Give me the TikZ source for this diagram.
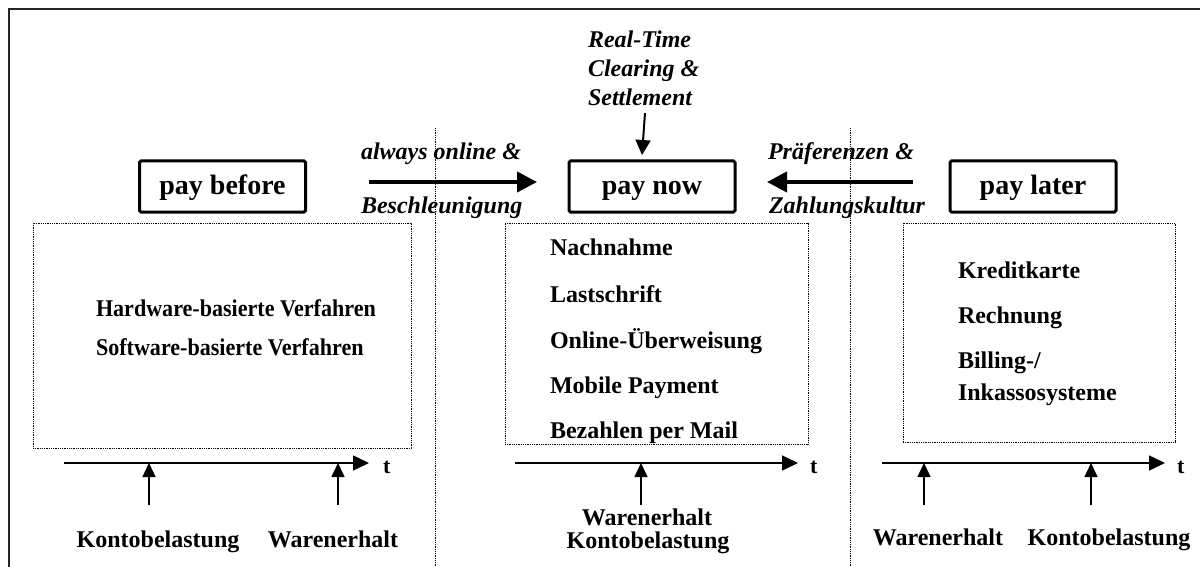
\documentclass[tikz,border=0pt]{standalone}
\usepackage{fontspec}
\setmainfont{Liberation Serif}
\usetikzlibrary{arrows.meta}
\begin{document}
\begin{tikzpicture}[x=1pt,y=-1pt,
  every node/.style={inner sep=0pt, outer sep=0pt},
  phase/.style={draw, line width=3pt, rounded corners=1.5pt,
    minimum width=166pt, minimum height=51pt, text height=20pt, text depth=5pt,
    font=\fontsize{28}{30}\selectfont\bfseries},
  panel/.style={draw, line width=0.9pt, dash pattern=on 0.9pt off 0.9pt},
  item/.style={anchor=base west, font=\fontsize{24}{26}\selectfont\bfseries},
  event/.style={anchor=base, font=\fontsize{24}{26}\selectfont\bfseries},
  driver/.style={anchor=base west, font=\fontsize{24}{26}\selectfont\bfseries\itshape},
  axislabel/.style={anchor=base west, font=\fontsize{22}{24}\selectfont\bfseries},
  force/.style={line width=4pt, -{Triangle[length=20pt,width=20pt]}},
  timeline/.style={line width=1.5pt, -{Triangle[length=16pt,width=15pt]}},
  marker/.style={line width=1.5pt, -{Triangle[length=14pt,width=13pt]}},
  divider/.style={line width=0.9pt, dash pattern=on 0.9pt off 0.9pt},
]
\useasboundingbox (0,0) rectangle (1200,567);

% open frame (left and top edges)
\draw[line width=2pt, black!85] (9,567) -- (9,9) -- (1200,9);

% dotted dividers between the three columns
\coordinate (d1t) at (435,128); \coordinate (d1b) at (435,567);
\coordinate (d2t) at (850,128); \coordinate (d2b) at (850,567);
\draw[divider] (d1t) -- (d1b);
\draw[divider] (d2t) -- (d2b);

% phase boxes
\node[phase] (before) at (222.5,186.5) {pay before};
\node[phase] (now)    at (652,186.5)   {pay now};
\node[phase] (later)  at (1033,186.5)  {pay later};

% dotted panels with the procedures
\node[panel, minimum width=378pt, minimum height=225pt] (lpanel) at (222,335.5) {};
\node[panel, minimum width=303pt, minimum height=221pt] (mpanel) at (656.5,333.5) {};
\node[panel, minimum width=272pt, minimum height=219pt] (rpanel) at (1039,332.5) {};

\node[item] (hw) at (96,316) {\scalebox{0.92}[1]{Hardware-basierte Verfahren}};
\node[item] (sw) at (96,355) {\scalebox{0.92}[1]{Software-basierte Verfahren}};

\node[item] (m1) at (550,255) {Nachnahme};
\node[item] (m2) at (550,302) {Lastschrift};
\node[item] (m3) at (550,348) {Online-Überweisung};
\node[item] (m4) at (550,393) {Mobile Payment};
\node[item] (m5) at (550,438) {Bezahlen per Mail};

\node[item] (r1) at (958,278) {Kreditkarte};
\node[item] (r2) at (958,323) {Rechnung};
\node[item] (r3) at (958,368) {Billing-/};
\node[item] (r4) at (958,400) {Inkassosysteme};

% drivers towards "pay now"
\node[driver] (rt1) at (588,48)  {Real-Time};
\node[driver] (rt2) at (588,77)  {Clearing \&};
\node[driver] (rt3) at (588,106) {Settlement};
\coordinate (rtarrow) at (645,113);
\coordinate (rttip) at (642,155);
\draw[line width=2pt, -{Triangle[length=15pt,width=15pt]}] (rtarrow) -- (rttip);

\node[driver] (ao) at (361,160) {always online \&};
\node[driver] (bs) at (361,213) {Beschleunigung};
\coordinate (ltail) at (369,182);
\coordinate (ltip)  at (537,182);
\draw[force] (ltail) -- (ltip);

\node[driver] (pf) at (768,160) {Präferenzen \&};
\node[driver] (zk) at (769,213) {Zahlungskultur};
\coordinate (rtail) at (913,182);
\coordinate (rtip)  at (767,182);
\draw[force] (rtail) -- (rtip);

% time axes
\coordinate (t1s) at (64,463);  \coordinate (t1e) at (369,463);
\coordinate (t2s) at (515,463); \coordinate (t2e) at (798,463);
\coordinate (t3s) at (882,463); \coordinate (t3e) at (1165,463);
\draw[timeline] (t1s) -- (t1e);
\draw[timeline] (t2s) -- (t2e);
\draw[timeline] (t3s) -- (t3e);
\node[axislabel] (tl1) at (383,473) {t};
\node[axislabel] (tl2) at (810,473) {t};
\node[axislabel] (tl3) at (1177,473) {t};

% events on the axes
\node[event] (lk) at (158,547) {Kontobelastung};
\node[event] (lw) at (333,547) {Warenerhalt};
\node[event] (mw) at (647,525) {Warenerhalt};
\node[event] (mk) at (648,548) {Kontobelastung};
\node[event] (rw) at (938,545) {Warenerhalt};
\node[event] (rk) at (1109,545) {Kontobelastung};

\coordinate (a1) at (149,505); \coordinate (a1t) at (149,463);
\coordinate (a2) at (338,505); \coordinate (a2t) at (338,463);
\coordinate (a3) at (641,505); \coordinate (a3t) at (641,463);
\coordinate (a4) at (924,505); \coordinate (a4t) at (924,463);
\coordinate (a5) at (1091,505); \coordinate (a5t) at (1091,463);
\draw[marker] (a1) -- (a1t);
\draw[marker] (a2) -- (a2t);
\draw[marker] (a3) -- (a3t);
\draw[marker] (a4) -- (a4t);
\draw[marker] (a5) -- (a5t);
\end{tikzpicture}
\end{document}
